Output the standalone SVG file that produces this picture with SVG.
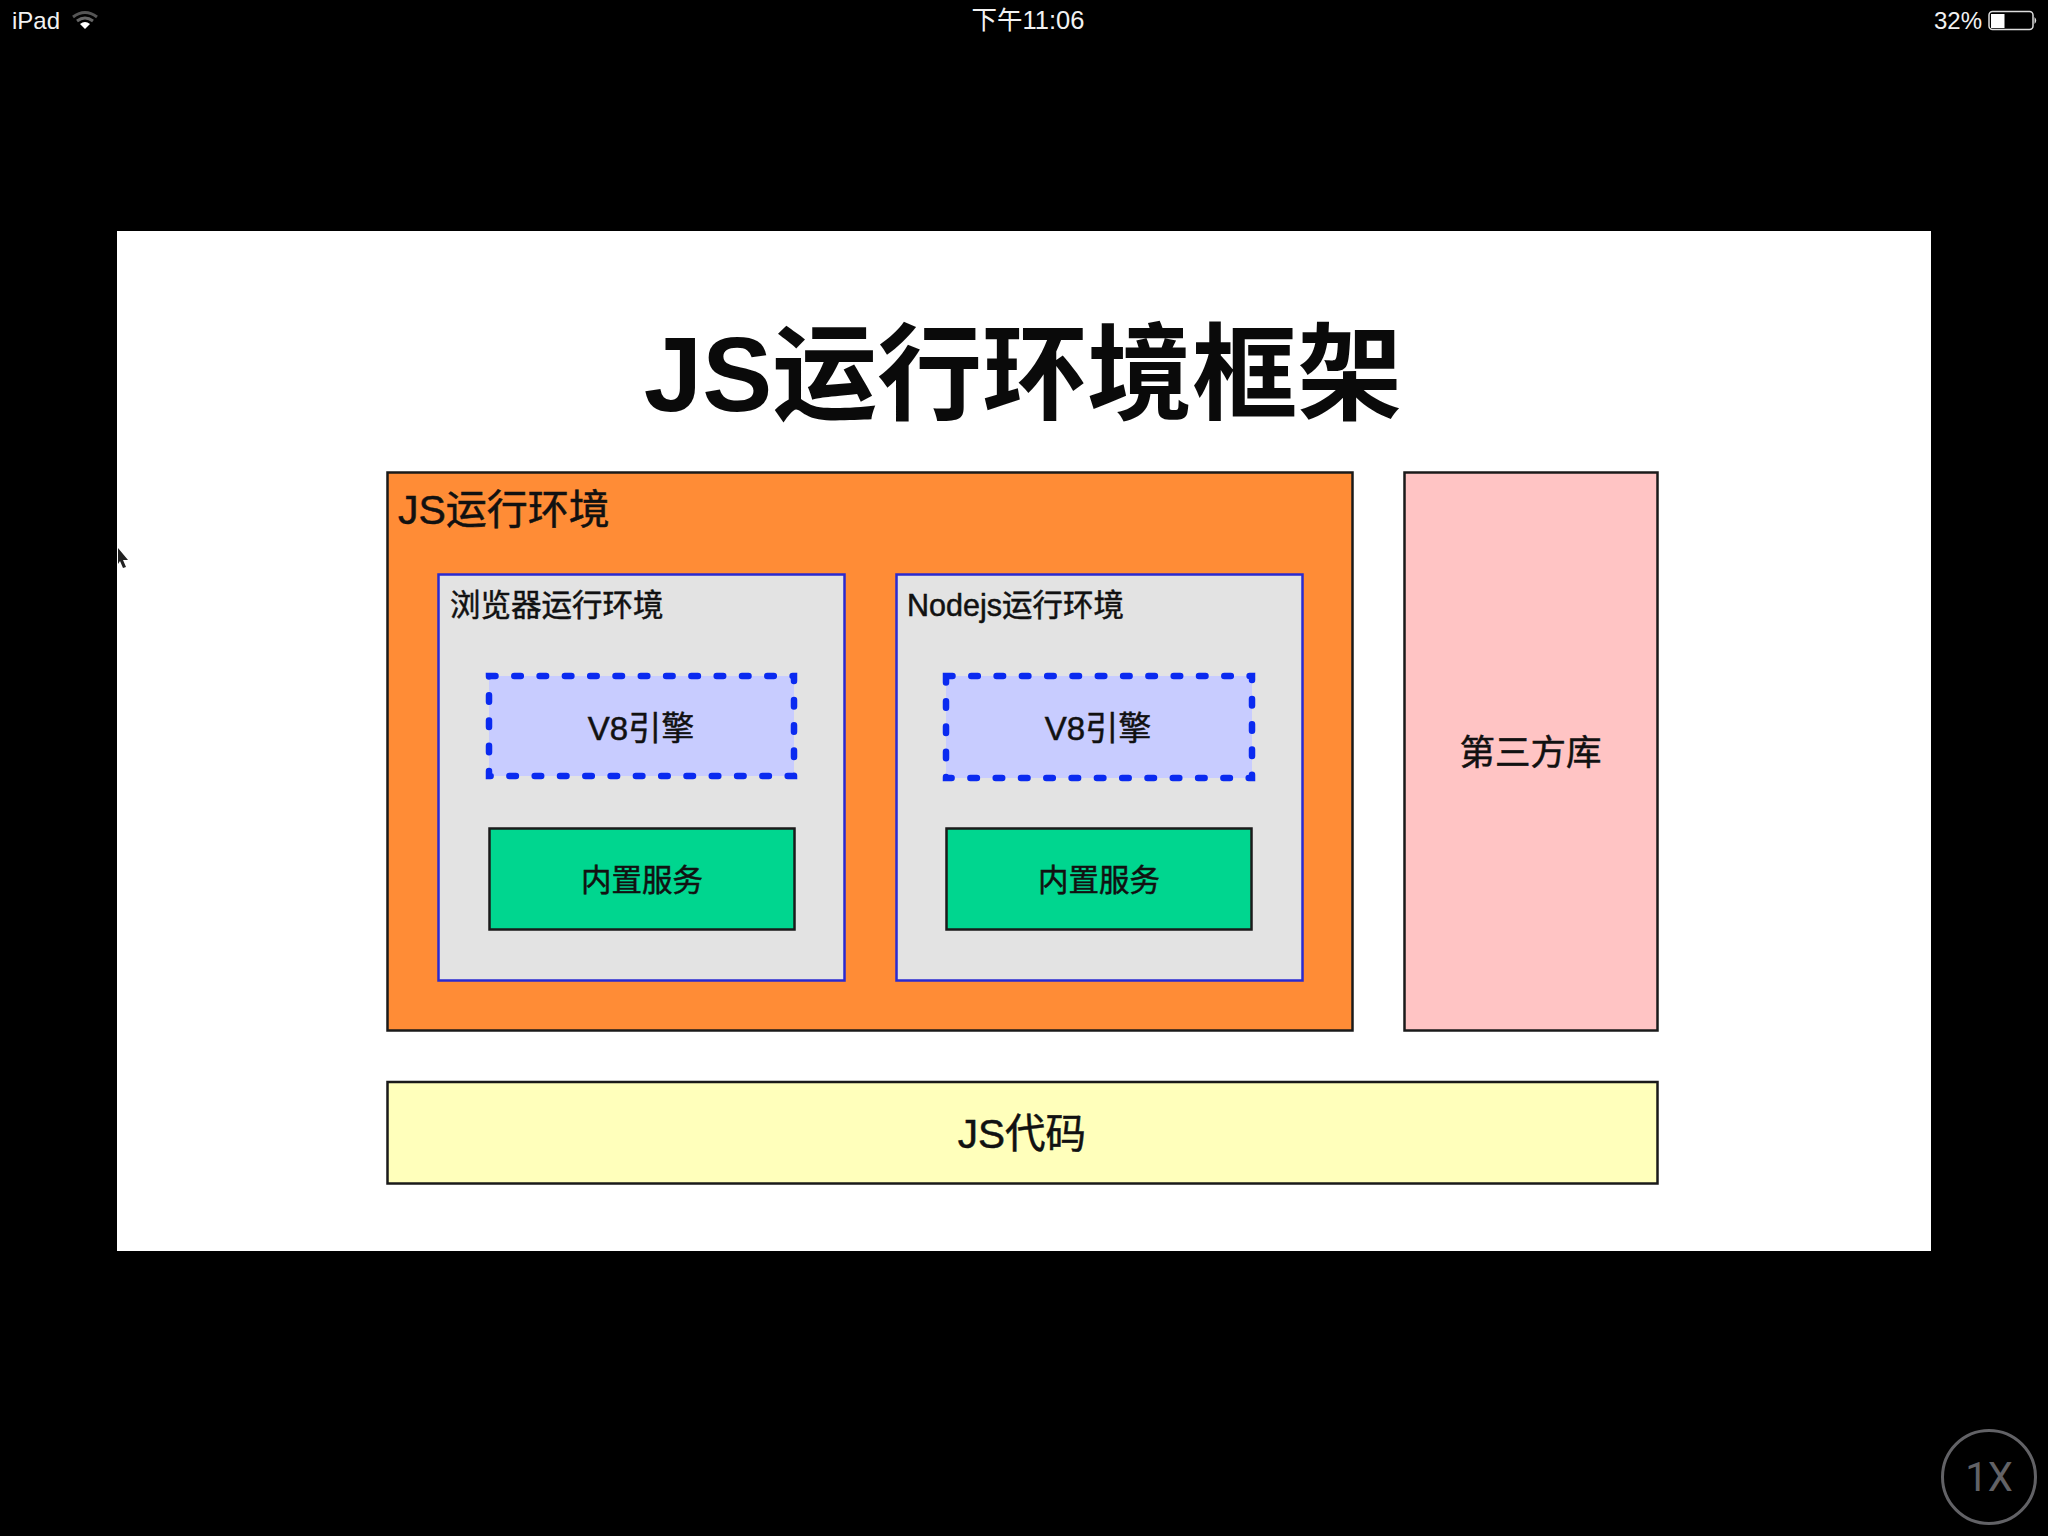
<svg xmlns="http://www.w3.org/2000/svg" width="2048" height="1536" viewBox="0 0 2048 1536">
<style>
text{font-family:"Liberation Sans","Noto Sans CJK SC",sans-serif;fill:#111}
.c{text-anchor:middle}
.l{stroke:#111;stroke-width:.5}
.box{stroke:#1a1a1a;stroke-width:2.5}
.env{fill:#e3e3e3;stroke:#2a2ad0;stroke-width:2.5}
.v8{fill:#c8ccff;stroke:#0a2af0;stroke-width:6.5;stroke-dasharray:6.500 18.800;stroke-linecap:round}
.svc{fill:#00d68f;stroke:#1a1a1a;stroke-width:2.5}
.bar{fill:#fff;font-size:24px}
</style>
<rect width="2048" height="1536" fill="#000"/>
<g id="status-bar">
<text class="bar" x="12" y="29" style="fill:#f2f2f2">iPad</text>
<path d="M73 17Q85 8 97 17" fill="none" stroke="#555" stroke-width="3"/>
<path d="M77 21Q85 15 93 21" fill="none" stroke="#666" stroke-width="3"/>
<path d="M80 24Q85 20 90 24L85 29Z" fill="#fff"/>
<text class="bar c" x="1028" y="29" style="fill:#f2f2f2;font-size:25.500px">下午11:06</text>
<text class="bar" x="1934" y="29" style="fill:#f2f2f2">32%</text>
<rect x="1989" y="11.500" width="44" height="18" rx="3.500" fill="none" stroke="#ddd" stroke-width="1.500"/>
<rect x="1991" y="14" width="13.500" height="14" fill="#fff"/>
<path d="M2034.500 17Q2038 20.500 2034.500 24Z" fill="#ddd"/>
</g>
<rect id="slide" x="117" y="231" width="1814" height="1020" fill="#fff"/>
<path id="cursor" d="M118 548L128 560L123 560L126 567L123 568L120 561L118 564Z" fill="#222"/>
<text id="title" x="1023" y="411" class="c" font-size="105" font-weight="700" style="fill:#0a0a0a">JS运行环境框架</text>
<g id="js-runtime">
<rect class="box" x="387.500" y="472.500" width="965" height="558" fill="#ff8c36"/>
<text class="l" x="398" y="524" font-size="41">JS运行环境</text>
</g>
<g id="browser-runtime">
<rect class="env" x="438.500" y="574.500" width="406" height="406"/>
<text class="l" x="450" y="616" font-size="30.500">浏览器运行环境</text>
</g>
<g id="browser-v8">
<rect class="v8" x="489" y="676" width="305" height="100"/>
<text class="c l" x="641" y="740" font-size="33">V8引擎</text>
</g>
<g id="browser-services">
<rect class="svc" x="489.500" y="828.500" width="305" height="101"/>
<text class="c l" x="642" y="891" font-size="30.500">内置服务</text>
</g>
<g id="nodejs-runtime">
<rect class="env" x="896.500" y="574.500" width="406" height="406"/>
<text class="l" x="907" y="616" font-size="30.500">Nodejs运行环境</text>
</g>
<g id="nodejs-v8">
<rect class="v8" x="946" y="676" width="306" height="102"/>
<text class="c l" x="1098" y="740" font-size="33">V8引擎</text>
</g>
<g id="nodejs-services">
<rect class="svc" x="946.500" y="828.500" width="305" height="101"/>
<text class="c l" x="1099" y="891" font-size="30.500">内置服务</text>
</g>
<g id="third-party">
<rect class="box" x="1404.500" y="472.500" width="253" height="558" fill="#ffc4c4"/>
<text class="c l" x="1530.500" y="765" font-size="35.500">第三方库</text>
</g>
<g id="js-code">
<rect class="box" x="387.500" y="1082" width="1270" height="101.500" fill="#ffffbb"/>
<text class="c l" x="1022" y="1148" font-size="40.500">JS代码</text>
</g>
<g id="zoom-button">
<circle cx="1989" cy="1477" r="46.500" fill="none" stroke="#626266" stroke-width="3"/>
<text class="c" x="1989" y="1491" font-size="40" font-weight="400" style="fill:#626266;font-family:Roboto,sans-serif">1X</text>
</g>
</svg>
